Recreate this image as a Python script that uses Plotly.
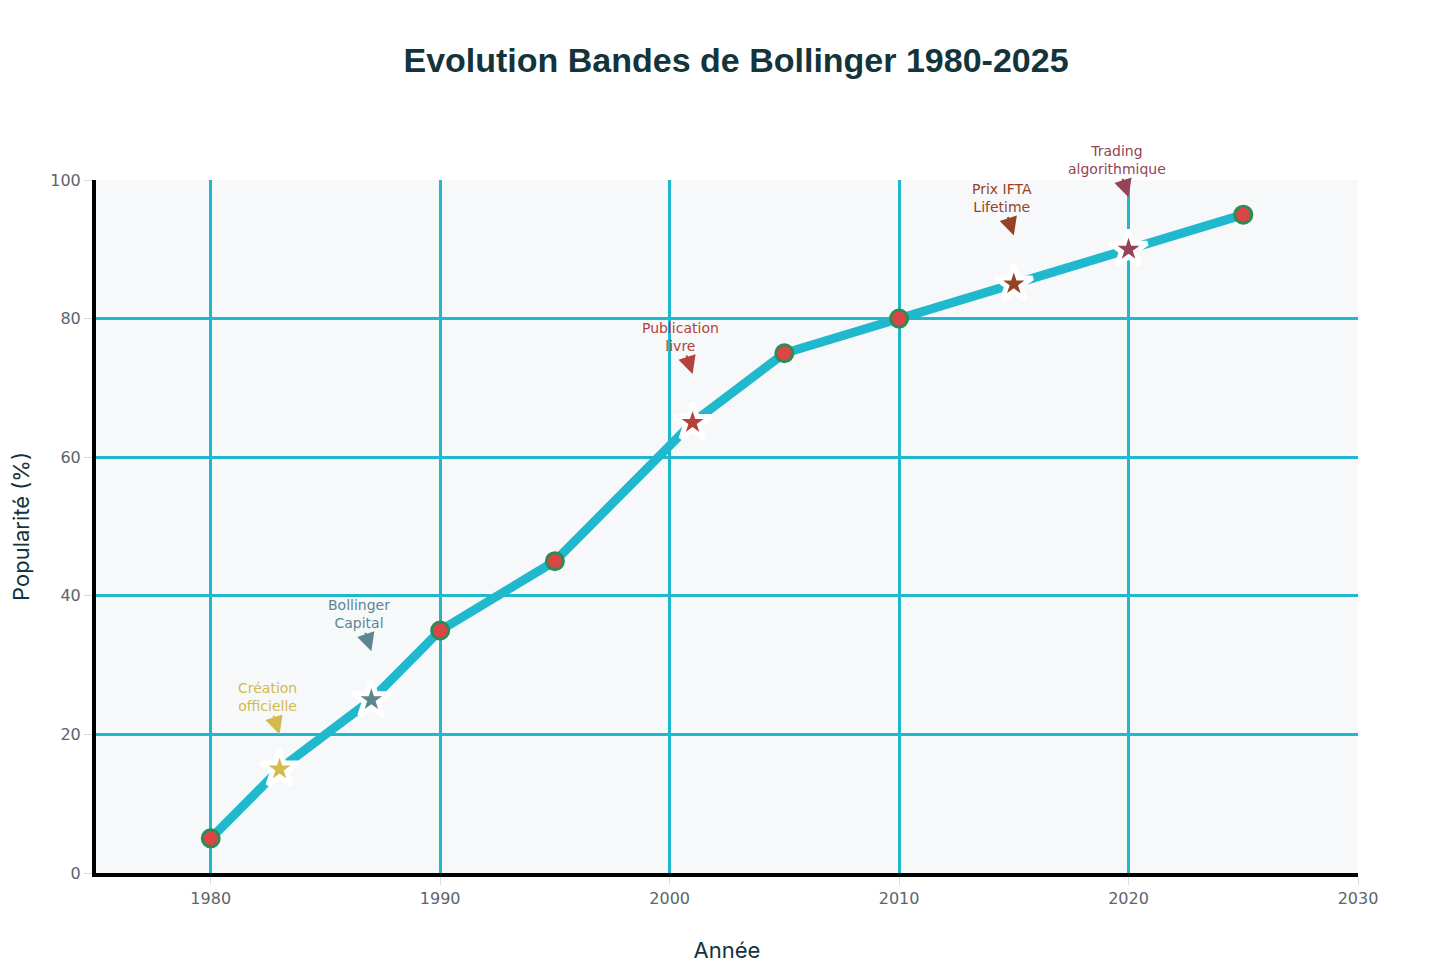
import plotly.graph_objects as go

# Données : popularité des Bandes de Bollinger
years = [1980, 1983, 1987, 1990, 1995, 2001, 2005, 2010, 2015, 2020, 2025]
popularity = [5, 15, 25, 35, 45, 65, 75, 80, 85, 90, 95]

event_years = [1983, 1987, 2001, 2015, 2020]
event_values = [15, 25, 65, 85, 90]
event_labels = ["Création<br>officielle", "Bollinger<br>Capital", "Publication<br>livre",
                "Prix IFTA<br>Lifetime", "Trading<br>algorithmique"]
event_arrow_y = [20, 32, 72, 92, 97.5]
event_colors = ["#D2BA4C", "#5D878F", "#B4413C", "#964325", "#944454"]

fig = go.Figure()

fig.add_trace(go.Scatter(
    x=years, y=popularity, mode="lines+markers",
    line=dict(color="#1FB8CD", width=9),
    marker=dict(size=17, color="#DB4545", line=dict(color="#2E8B57", width=3)),
    showlegend=False, cliponaxis=False))

fig.add_trace(go.Scatter(
    x=event_years, y=event_values, mode="markers",
    marker=dict(symbol="star", size=28, color=event_colors, line=dict(color="white", width=5)),
    showlegend=False, cliponaxis=False))

for x, y, label, color in zip(event_years, event_arrow_y, event_labels, event_colors):
    fig.add_annotation(x=x, y=y, text=label, showarrow=True, ax=-12, ay=-37,
                       arrowhead=2, arrowsize=1.8, arrowwidth=2, arrowcolor=color,
                       font=dict(size=14, color=color, family="DejaVu Sans"))

fig.update_layout(
    width=1456, height=971,
    title=dict(text="<b>Evolution Bandes de Bollinger 1980-2025</b>", x=0.5, y=0.946,
               xanchor="center", yanchor="middle",
               font=dict(size=34, color="#13343B", family="Liberation Sans")),
    paper_bgcolor="white", plot_bgcolor="#F6F8FA",
    margin=dict(l=88, r=106, t=172, b=106),
    font=dict(family="DejaVu Sans", color="#5A656E", size=16),
    xaxis=dict(range=[1975, 2030], dtick=10, gridcolor="#1FB8CD", gridwidth=3,
               showline=True, linecolor="black", linewidth=4, zeroline=False,
               ticks="outside", ticklen=8, tickcolor="#DDDDDD", automargin=False,
               title=dict(text="Année", standoff=36,
                          font=dict(size=22, color="#13343B", family="Inter"))),
    yaxis=dict(range=[0, 100], dtick=20, gridcolor="#1FB8CD", gridwidth=3,
               showline=True, linecolor="black", linewidth=4, zeroline=False,
               ticks="outside", ticklen=8, tickcolor="#DDDDDD", automargin=False,
               title=dict(text="Popularité (%)", standoff=30,
                          font=dict(size=22, color="#13343B", family="Inter"))),
)

fig.write_html("out.html")
